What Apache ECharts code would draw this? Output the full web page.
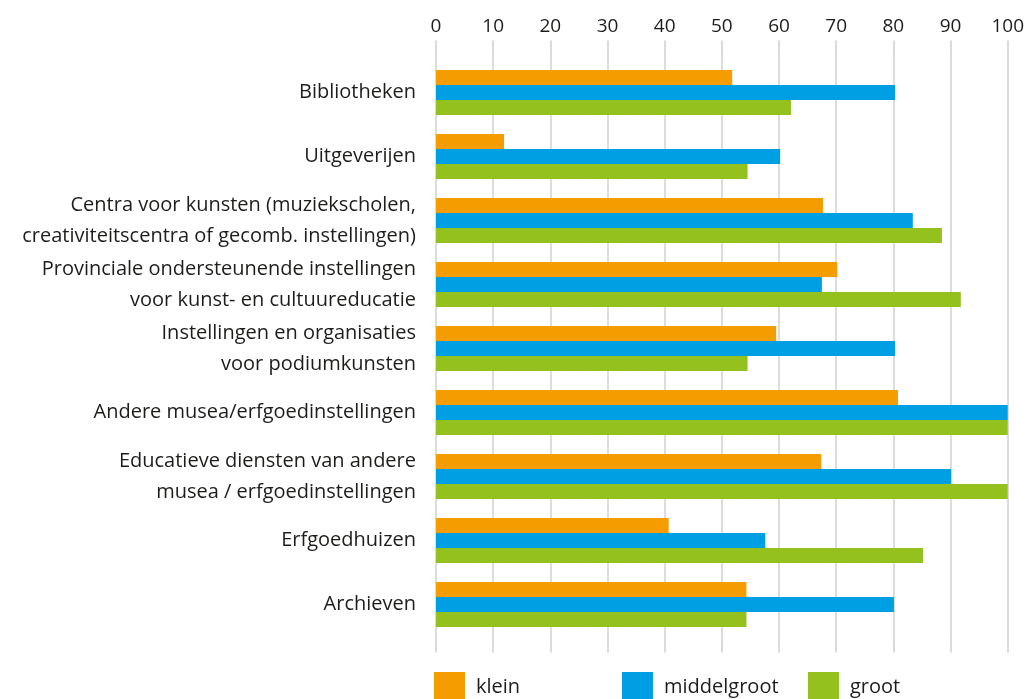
<!DOCTYPE html>
<html>
<head>
<meta charset="utf-8">
<script src="https://cdn.jsdelivr.net/npm/echarts@6/dist/echarts.min.js"></script>
<style>
    html, body { margin: 0; padding: 0; background: #fff; }
    #chart { width: 1027px; height: 699px; }
</style>
</head>
<body>
<div id="chart"></div>
<script>
    var categories = [
        'Bibliotheken',
        'Uitgeverijen',
        'Centra voor kunsten (muziekscholen,\ncreativiteitscentra of gecomb. instellingen)',
        'Provinciale ondersteunende instellingen\nvoor kunst- en cultuureducatie',
        'Instellingen en organisaties\nvoor podiumkunsten',
        'Andere musea/erfgoedinstellingen',
        'Educatieve diensten van andere\nmusea / erfgoedinstellingen',
        'Erfgoedhuizen',
        'Archieven'
    ];
    var klein = [51.8, 11.9, 67.7, 70.2, 59.5, 80.8, 67.4, 40.7, 54.3];
    var middelgroot = [80.3, 60.2, 83.4, 67.5, 80.3, 100, 90.1, 57.6, 80.1];
    var groot = [62.1, 54.5, 88.5, 91.8, 54.5, 100, 100, 85.2, 54.3];
    var seriesNames = ['klein', 'middelgroot', 'groot'];
    var colors = ['#f59c00', '#009fe3', '#95c11f'];

    var font = 'Open Sans';
    var textColor = '#1d1d1b';
    var gridColor = '#d0d0d0';

    var chart = echarts.init(document.getElementById('chart'));

    function makeLegend(i, left) {
        return {
            data: [seriesNames[i]],
            left: left,
            top: 672,
            padding: 0,
            itemWidth: 31,
            itemHeight: 30,
            icon: 'rect',
            textStyle: {
                fontFamily: font,
                fontSize: 20,
                color: textColor,
                padding: [0, 0, 0, 6]
            }
        };
    }

    function makeSeries(i, values) {
        return {
            name: seriesNames[i],
            type: 'bar',
            xAxisIndex: 0,
            barWidth: 15,
            barGap: '0%',
            itemStyle: { color: colors[i] },
            data: values
        };
    }

    var option = {
        animation: false,
        color: colors,
        grid: {
            left: 436,
            right: 19,
            top: 60.5,
            bottom: 62.5
        },
        legend: [
            makeLegend(0, 434),
            makeLegend(1, 622),
            makeLegend(2, 808)
        ],
        xAxis: [{
            type: 'value',
            position: 'top',
            min: 0,
            max: 100,
            interval: 10,
            axisLine: { show: false },
            axisTick: {
                show: true,
                length: 20,
                lineStyle: { color: gridColor, width: 1.5 }
            },
            axisLabel: {
                margin: 24,
                fontFamily: font,
                fontSize: 19,
                color: textColor
            },
            splitLine: {
                show: true,
                lineStyle: { color: gridColor, width: 1.5 }
            }
        }, {
            type: 'value',
            position: 'bottom',
            min: 0,
            max: 100,
            interval: 10,
            axisLine: { show: false },
            axisTick: {
                show: true,
                length: 16,
                lineStyle: { color: gridColor, width: 1.5 }
            },
            axisLabel: { show: false },
            splitLine: { show: false }
        }],
        yAxis: {
            type: 'category',
            inverse: true,
            data: categories,
            axisLine: { show: false },
            axisTick: { show: false },
            axisLabel: {
                margin: 20,
                fontFamily: font,
                fontSize: 20,
                lineHeight: 31,
                color: textColor
            }
        },
        series: [
            makeSeries(0, klein),
            makeSeries(1, middelgroot),
            makeSeries(2, groot)
        ]
    };

    chart.setOption(option);
</script>
</body>
</html>
